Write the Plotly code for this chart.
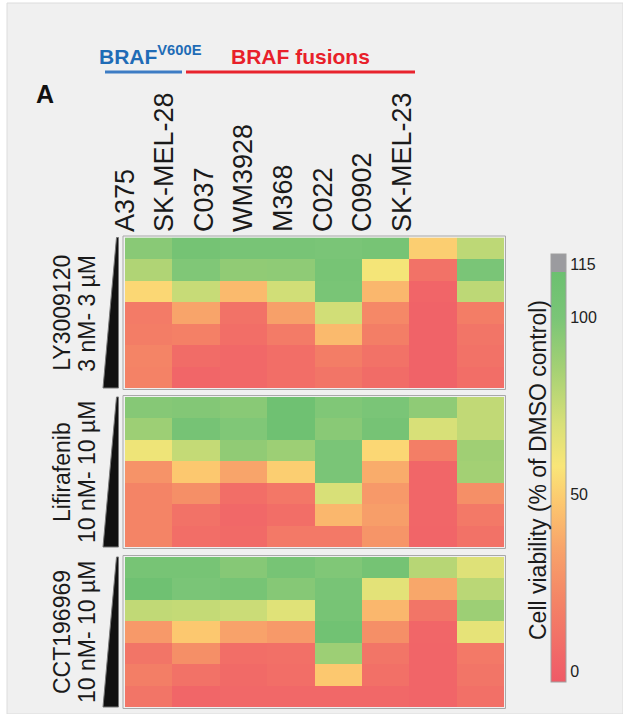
import plotly.graph_objects as go

# ---- data -------------------------------------------------------------
cell_lines = ["A375", "SK-MEL-28", "C037", "WM3928", "M368", "C022", "C0902", "SK-MEL-23"]
drugs = ["LY3009120", "Lifirafenib", "CCT196969"]
dose_ranges = ["3 nM- 3 µM", "10 nM- 10 µM", "10 nM- 10 µM"]

# cell viability (% of DMSO control), rows = increasing concentration
ly3009120 = [
    [95, 105, 102, 102, 100, 103, 50, 78],
    [82, 98, 92, 93, 103, 60, 10, 100],
    [53, 75, 43, 72, 101, 42, 3, 78],
    [15, 35, 10, 33, 72, 22, 2, 16],
    [16, 18, 8, 15, 43, 17, 2, 12],
    [20, 7, 5, 8, 16, 10, 2, 10],
    [19, 4, 5, 8, 12, 7, 2, 8],
]
lifirafenib = [
    [96, 97, 95, 110, 98, 100, 93, 77],
    [88, 104, 98, 110, 95, 104, 70, 77],
    [62, 76, 92, 88, 100, 53, 17, 87],
    [27, 48, 35, 50, 100, 38, 4, 86],
    [20, 25, 8, 13, 70, 30, 4, 25],
    [20, 10, 5, 8, 42, 32, 4, 14],
    [20, 8, 6, 14, 14, 28, 3, 10],
]
cct196969 = [
    [103, 103, 96, 103, 98, 105, 80, 68],
    [110, 100, 103, 96, 102, 66, 36, 79],
    [77, 76, 74, 67, 103, 42, 12, 88],
    [30, 48, 34, 30, 108, 25, 4, 65],
    [12, 25, 8, 9, 88, 12, 3, 14],
    [17, 10, 6, 8, 48, 9, 3, 12],
    [12, 4, 5, 5, 5, 5, 3, 9],
]
panels = [ly3009120, lifirafenib, cct196969]
colorbar_ticks = [0, 50, 100, 115]

# ---- layout helpers (pixel -> paper) ----------------------------------
W, H = 623, 714
def px(x):
    return x / W
def py(y):
    return 1 - y / H

HM_X0, HM_X1 = 125, 504
PANEL_Y = [(237.5, 388), (397, 547), (557, 707)]

CMIN, CMAX = -3, 118
stops = [
    (-3, "#ef5a66"), (0, "#f05f68"), (20, "#f48466"), (35, "#f8a46a"),
    (48, "#fcc86f"), (58, "#f9e678"), (70, "#d8e078"), (85, "#a6d174"),
    (100, "#7ac577"), (112.9, "#6cc070"), (113, "#9b9b9f"), (118, "#9b9b9f"),
]
colorscale = [[(v - CMIN) / (CMAX - CMIN), c] for v, c in stops]

FONT = "Liberation Sans, Arial, sans-serif"
TXT = "#1a1a1a"

fig = go.Figure()

for i, z in enumerate(panels):
    sfx = "" if i == 0 else str(i + 1)
    fig.add_trace(go.Heatmap(
        z=z, x=list(range(len(cell_lines))), y=list(range(len(z))),
        coloraxis="coloraxis", xaxis="x" + sfx, yaxis="y" + sfx,
        hoverinfo="skip",
    ))
    y0, y1 = PANEL_Y[i]
    fig.layout["xaxis" + sfx] = dict(
        domain=[px(HM_X0), px(HM_X1)], range=[-0.5, 7.5], anchor="y" + sfx,
        showticklabels=False, showgrid=False, zeroline=False, ticks="",
    )
    fig.layout["yaxis" + sfx] = dict(
        domain=[py(y1), py(y0)], range=[6.5, -0.5], anchor="x" + sfx,
        showticklabels=False, showgrid=False, zeroline=False, ticks="",
    )

# cell-line labels on their own top axis
fig.add_trace(go.Scatter(
    x=list(range(len(cell_lines))), y=[0] * len(cell_lines), mode="markers",
    marker=dict(opacity=0), xaxis="x4", yaxis="y4", hoverinfo="skip", showlegend=False,
))
fig.layout.xaxis4 = dict(
    domain=[px(105.2), px(421.8)], range=[-0.5, 7.5], anchor="y4", side="top",
    tickmode="array", tickvals=list(range(len(cell_lines))), ticktext=cell_lines,
    tickangle=-90, tickfont=dict(family=FONT, size=27, color=TXT),
    showgrid=False, zeroline=False, showline=False, ticks="",
)
fig.layout.yaxis4 = dict(
    domain=[py(234), py(233)], visible=False, anchor="x4",
)

fig.update_layout(
    width=W, height=H, margin=dict(l=0, r=0, t=0, b=0),
    paper_bgcolor="white", plot_bgcolor="rgba(0,0,0,0)", showlegend=False,
    coloraxis=dict(
        colorscale=colorscale, cmin=CMIN, cmax=CMAX,
        colorbar=dict(
            x=px(551), xanchor="left", y=py(468), yanchor="middle",
            lenmode="pixels", len=428, thicknessmode="pixels", thickness=15,
            outlinewidth=1, outlinecolor="#a0a0a0",
            tickmode="array", tickvals=colorbar_ticks,
            ticktext=[str(t) for t in colorbar_ticks], ticks="",
            tickfont=dict(family=FONT, size=16, color="#222"),
            xpad=0, ypad=0,
        ),
    ),
)

shapes = [
    # light grey figure panel
    dict(type="rect", xref="paper", yref="paper", x0=px(7), x1=px(623), y0=py(3), y1=py(714),
         fillcolor="#f0f0f0", line=dict(color="#dcdcdc", width=1), layer="below"),
    # group bars
    dict(type="line", xref="paper", yref="paper", x0=px(105), x1=px(182), y0=py(72), y1=py(72),
         line=dict(color="#3d7cc4", width=3)),
    dict(type="line", xref="paper", yref="paper", x0=px(186), x1=px(415), y0=py(72), y1=py(72),
         line=dict(color="#e8232d", width=3)),
]
annotations = [
    dict(text="<b>A</b>", x=px(45), y=py(94), font=dict(family=FONT, size=25, color="#111")),
    dict(text="<b>BRAF<sup>V600E</sup></b>", x=px(97), y=py(70), xanchor="left", yanchor="bottom",
         font=dict(family=FONT, size=21, color="#1f6cb6")),
    dict(text="<b>BRAF fusions</b>", x=px(300), y=py(70), yanchor="bottom",
         font=dict(family=FONT, size=21, color="#e8202a")),
    dict(text="Cell viability (% of DMSO control)", x=px(538), y=py(470), textangle=-90,
         font=dict(family=FONT, size=23, color=TXT)),
]
for i, (y0, y1) in enumerate(PANEL_Y):
    # frame around each heatmap block
    shapes.append(dict(type="rect", xref="paper", yref="paper",
                       x0=px(HM_X0 - 2), x1=px(HM_X1 + 1.5), y0=py(y0 - 1.5), y1=py(y1 + 1.5),
                       line=dict(color="#a8a8a8", width=1)))
    # concentration wedge
    path = "M {a},{b} L {c},{b} L {c},{d} L {e},{d} Z".format(
        a=px(116.5), b=py(y0), c=px(118.5), d=py(y1), e=px(103))
    shapes.append(dict(type="path", xref="paper", yref="paper", path=path,
                       fillcolor="#111", line=dict(color="#777", width=1)))
    yc = (y0 + y1) / 2
    annotations.append(dict(text=drugs[i], x=px(62), y=py(yc), textangle=-90,
                            font=dict(family=FONT, size=23, color=TXT)))
    annotations.append(dict(text=dose_ranges[i], x=px(87), y=py(yc), textangle=-90,
                            font=dict(family=FONT, size=23, color=TXT)))

for a in annotations:
    a.setdefault("xanchor", "center")
    a.setdefault("yanchor", "middle")
    a.update(xref="paper", yref="paper", showarrow=False)
fig.update_layout(shapes=shapes, annotations=annotations)

fig.write_html("out.html")
